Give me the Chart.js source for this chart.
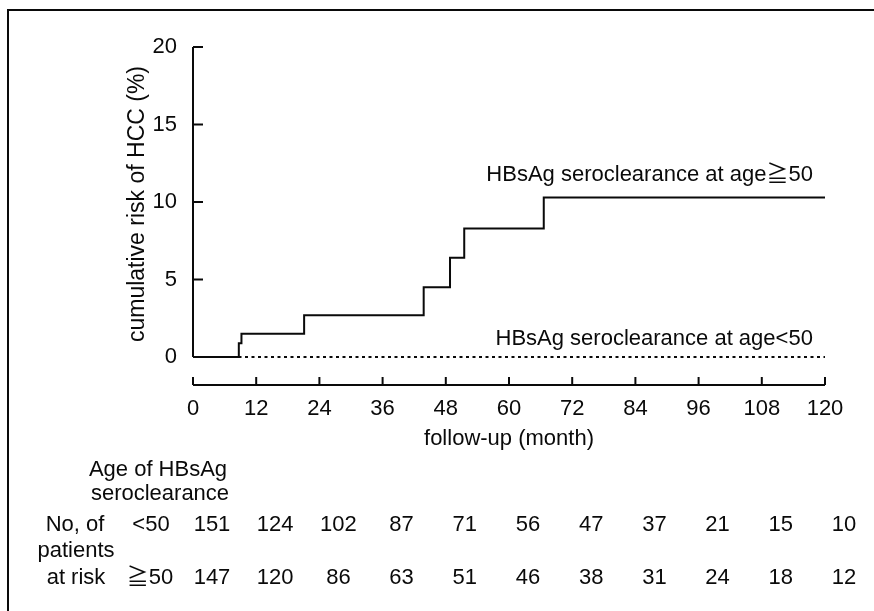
<!DOCTYPE html>
<html>
<head>
<meta charset="utf-8">
<script src="https://cdn.jsdelivr.net/npm/chart.js@4.4.1/dist/chart.umd.min.js"></script>
<style>
  html, body { margin: 0; padding: 0; background: #fff; overflow: hidden; }
  canvas { display: block; }
</style>
</head>
<body>
<canvas id="km" width="874" height="611"></canvas>
<script>
// follow-up months shown on the x axis
const months = [0, 12, 24, 36, 48, 60, 72, 84, 96, 108, 120];
const riskTicks = [0, 5, 10, 15, 20];

// cumulative risk of HCC (%), step curve, seroclearance at age >= 50
const oldMonths = [0, 8.7, 9.2, 21.1, 43.8, 48.8, 51.5, 66.6, 120];
const oldRisk = [0, 0.9, 1.5, 2.7, 4.5, 6.4, 8.3, 10.3, 10.3];

// seroclearance at age < 50 : no HCC
const youngMonths = [0, 120];
const youngRisk = [0, 0];

// number of patients at risk
const groups = ['<50', '≧50'];
const atRiskYoung = [151, 124, 102, 87, 71, 56, 47, 37, 21, 15, 10];
const atRiskOld = [147, 120, 86, 63, 51, 46, 38, 31, 24, 18, 12];

const ink = '#0a0a0a';
const fontFam = '"Liberation Sans", Arial, "Noto Sans CJK JP", sans-serif';
const font22 = '22px ' + fontFam;

function toPoints(xs, ys) {
  return xs.map((m, i) => ({ x: m, y: ys[i] }));
}

const extras = {
  id: 'extras',
  beforeDraw(chart) {
    const c = chart.ctx;
    c.save();
    c.fillStyle = '#fff';
    c.fillRect(0, 0, chart.width, chart.height);
    // outer frame (only top and left are visible in the scan)
    c.strokeStyle = ink;
    c.lineWidth = 2;
    c.beginPath();
    c.moveTo(8, chart.height);
    c.lineTo(8, 10);
    c.lineTo(chart.width, 10);
    c.stroke();
    c.restore();
  },
  afterDraw(chart) {
    const c = chart.ctx;
    const x = chart.scales.x;
    const y = chart.scales.y;
    const x0 = x.getPixelForValue(0);
    const xb = chart.chartArea.bottom;
    c.save();
    c.strokeStyle = ink;
    c.lineWidth = 2;

    // y axis, stops at 0
    c.beginPath();
    c.moveTo(x0, y.getPixelForValue(20));
    c.lineTo(x0, y.getPixelForValue(0));
    riskTicks.forEach(v => {
      c.moveTo(x0, y.getPixelForValue(v));
      c.lineTo(x0 + 10, y.getPixelForValue(v));
    });
    c.stroke();

    // x axis, detached below the plot
    c.beginPath();
    c.moveTo(x0, xb);
    c.lineTo(x.getPixelForValue(120), xb);
    months.forEach(m => {
      c.moveTo(x.getPixelForValue(m), xb);
      c.lineTo(x.getPixelForValue(m), xb - 8);
    });
    c.stroke();

    c.fillStyle = ink;
    c.font = font22;
    c.textBaseline = 'middle';

    // curve labels
    c.textAlign = 'right';
    c.fillText('HBsAg seroclearance at age≧50', x.getPixelForValue(117.7), y.getPixelForValue(11.75));
    c.fillText('HBsAg seroclearance at age<50', x.getPixelForValue(117.7), y.getPixelForValue(1.2));

    // axis titles
    c.textAlign = 'center';
    c.fillText('follow-up (month)', (x0 + x.getPixelForValue(120)) / 2, 439);
    c.save();
    c.translate(138, 204);
    c.rotate(-Math.PI / 2);
    c.font = '23px ' + fontFam;
    c.fillText('cumulative risk of HCC (%)', 0, 0);
    c.restore();

    // at-risk table
    c.fillText('Age of HBsAg', 158, 470);
    c.fillText('seroclearance', 160, 494);
    c.fillText('No, of', 75, 525);
    c.fillText('patients', 76, 551);
    c.fillText('at risk', 76, 578);
    c.fillText(groups[0], 151, 525);
    c.fillText(groups[1], 150, 578);
    months.forEach((m, i) => {
      const px = x.getPixelForValue(m) + 19;
      c.fillText(String(atRiskYoung[i]), px, 525);
      c.fillText(String(atRiskOld[i]), px, 578);
    });
    c.restore();
  }
};

new Chart(document.getElementById('km'), {
  type: 'line',
  data: {
    datasets: [
      {
        label: 'age>=50',
        data: toPoints(oldMonths, oldRisk),
        borderColor: ink,
        borderWidth: 2,
        stepped: 'before',
        pointRadius: 0,
        fill: false
      },
      {
        label: 'age<50',
        data: toPoints(youngMonths, youngRisk),
        borderColor: ink,
        borderWidth: 2,
        borderDash: [3, 3.5],
        pointRadius: 0,
        fill: false
      }
    ]
  },
  options: {
    responsive: false,
    animation: false,
    devicePixelRatio: 1,
    layout: { padding: { top: 47, right: 49, left: 0, bottom: 0 } },
    plugins: {
      legend: { display: false },
      tooltip: { enabled: false }
    },
    scales: {
      x: {
        type: 'linear',
        min: 0,
        max: 120,
        grid: { display: false },
        border: { display: false },
        afterBuildTicks: s => { s.ticks = months.map(v => ({ value: v })) },
        afterFit: s => { s.height = 226 },
        ticks: {
          padding: 3,
          color: ink,
          font: { family: fontFam, size: 22 },
          maxRotation: 0,
          autoSkip: false
        }
      },
      y: {
        type: 'linear',
        min: -1.8,
        max: 20,
        grid: { display: false },
        border: { display: false },
        afterBuildTicks: s => { s.ticks = riskTicks.map(v => ({ value: v })) },
        afterFit: s => { s.width = 193 },
        ticks: {
          padding: 8,
          color: ink,
          font: { family: fontFam, size: 22 }
        }
      }
    }
  },
  plugins: [extras]
});
</script>
</body>
</html>
